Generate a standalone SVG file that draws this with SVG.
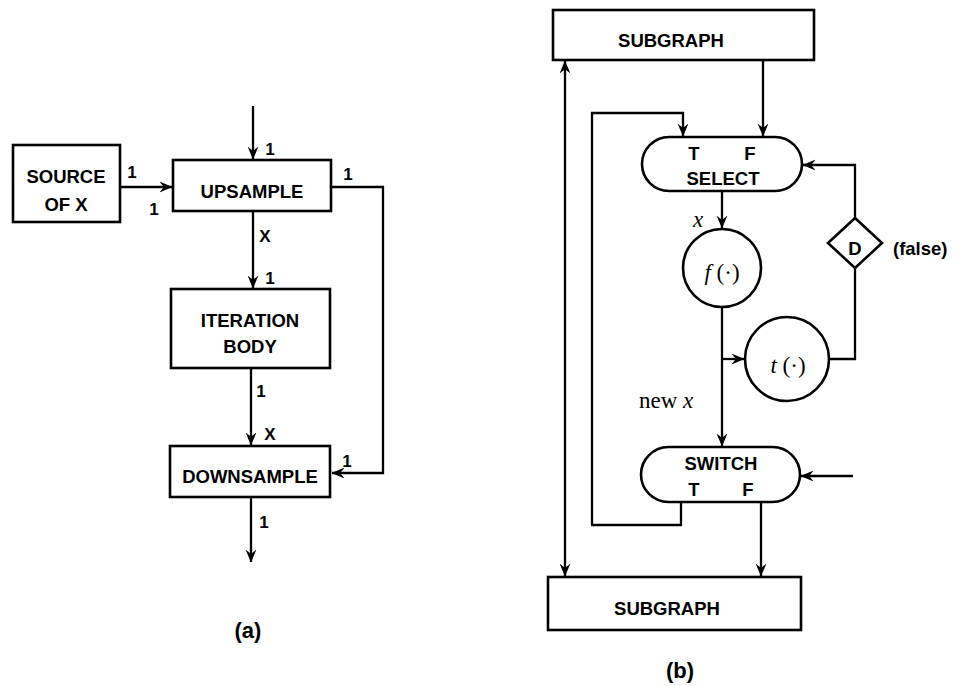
<svg xmlns="http://www.w3.org/2000/svg" width="960" height="686" viewBox="0 0 960 686">
<defs>
<marker id="ah" viewBox="0 0 12 12" refX="11.5" refY="6" markerWidth="13" markerHeight="13" markerUnits="userSpaceOnUse" orient="auto-start-reverse">
<path d="M0,1 L12,6 L0,11 L4,6 z" fill="#000"/>
</marker>
</defs>
<style>
.box{fill:#fff;stroke:#000;stroke-width:2.6}
.ln{fill:none;stroke:#000;stroke-width:2.3}
.arr{fill:none;stroke:#000;stroke-width:2.3;marker-end:url(#ah)}
.t{font-family:"Liberation Sans",Arial,sans-serif;font-weight:bold;font-size:18.5px;fill:#000;text-anchor:middle}
.n{font-family:"Liberation Sans",Arial,sans-serif;font-weight:bold;font-size:17px;fill:#000;text-anchor:middle}
.s{font-family:"Liberation Serif","Times New Roman",serif;font-size:23px;fill:#000}
.cap{font-family:"Liberation Sans",Arial,sans-serif;font-weight:bold;font-size:22px;fill:#000;text-anchor:middle}
</style>
<rect width="960" height="686" fill="#fff"/>

<!-- (a) -->
<g id="source">
<rect class="box" x="13" y="145" width="107" height="77"/>
<text class="t" x="66" y="183">SOURCE</text>
<text class="t" x="66" y="211">OF X</text>
</g>
<g id="upsample">
<rect class="box" x="173" y="160" width="158" height="51"/>
<text class="t" x="252" y="198">UPSAMPLE</text>
</g>
<g id="iteration">
<rect class="box" x="171" y="289" width="159" height="79"/>
<text class="t" x="250" y="327">ITERATION</text>
<text class="t" x="250" y="353">BODY</text>
</g>
<g id="downsample">
<rect class="box" x="170" y="446" width="160" height="51"/>
<text class="t" x="250" y="483">DOWNSAMPLE</text>
</g>
<text class="cap" x="248" y="638">(a)</text>

<!-- (b) -->
<g id="subgraph-top">
<rect class="box" x="553" y="10" width="261" height="50"/>
<text class="t" x="671" y="47">SUBGRAPH</text>
</g>
<g id="select">
<rect class="box" x="642" y="137" width="160" height="54" rx="27"/>
<text class="t" x="694" y="160">T</text>
<text class="t" x="750" y="160">F</text>
<text class="t" x="723" y="185">SELECT</text>
</g>
<g id="f">
<circle class="box" cx="722" cy="268" r="39"/>
<text class="s" x="722" y="280" text-anchor="middle" font-size="25"><tspan font-style="italic">f</tspan> (·)</text>
</g>
<g id="t">
<circle class="box" cx="787" cy="359" r="42"/>
<text class="s" x="788" y="373" text-anchor="middle" font-size="25"><tspan font-style="italic">t</tspan> (·)</text>
</g>
<g id="delay">
<path class="box" d="M855,218 L882,243 L855,268 L828,243 z"/>
<text class="t" x="855" y="255">D</text>
</g>
<text class="t" x="893" y="255" style="text-anchor:start">(false)</text>
<g id="switch">
<rect class="box" x="641" y="447" width="159" height="55" rx="27.5"/>
<text class="t" x="721" y="470">SWITCH</text>
<text class="t" x="694" y="496">T</text>
<text class="t" x="748" y="496">F</text>
</g>
<g id="subgraph-bottom">
<rect class="box" x="548" y="577" width="253" height="53"/>
<text class="t" x="667" y="615">SUBGRAPH</text>
</g>
<text class="cap" x="680" y="678">(b)</text>

<g id="connectors">
<!-- (a) -->
<line class="arr" x1="253" y1="106" x2="253" y2="159"/>
<line class="arr" x1="120" y1="187" x2="172" y2="187"/>
<line class="arr" x1="253" y1="211" x2="253" y2="288"/>
<line class="arr" x1="251" y1="368" x2="251" y2="445"/>
<line class="arr" x1="251" y1="497" x2="251" y2="562"/>
<polyline class="arr" points="331,187 383,187 383,473 332,473"/>
<!-- (b) -->
<line class="arr" x1="763" y1="60" x2="763" y2="136"/>
<polyline class="arr" points="592,525 592,113 683,113 683,136"/>
<line class="ln" x1="565" y1="61" x2="565" y2="576" marker-start="url(#ah)" marker-end="url(#ah)"/>
<line class="arr" x1="722" y1="191" x2="722" y2="228"/>
<line class="arr" x1="722" y1="307" x2="722" y2="446"/>
<line class="arr" x1="722" y1="359" x2="744" y2="359"/>
<polyline class="ln" points="829,359 855,359 855,268"/>
<polyline class="arr" points="855,218 855,165 803,165"/>
<line class="arr" x1="853" y1="476" x2="801" y2="476"/>
<polyline class="ln" points="681,502 681,525 591,525"/>
<line class="arr" x1="761" y1="502" x2="761" y2="576"/>
</g>

<g id="labels">
<text class="n" x="132" y="178">1</text>
<text class="n" x="154" y="215">1</text>
<text class="n" x="270" y="155">1</text>
<text class="n" x="348" y="180">1</text>
<text class="n" x="265" y="242">X</text>
<text class="n" x="270" y="284">1</text>
<text class="n" x="261" y="397">1</text>
<text class="n" x="270" y="440">X</text>
<text class="n" x="347" y="467">1</text>
<text class="n" x="264" y="528">1</text>
<text class="s" x="698" y="227" text-anchor="middle" font-style="italic">x</text>
<text class="s" x="639" y="408">new <tspan font-style="italic">x</tspan></text>
</g>
</svg>
